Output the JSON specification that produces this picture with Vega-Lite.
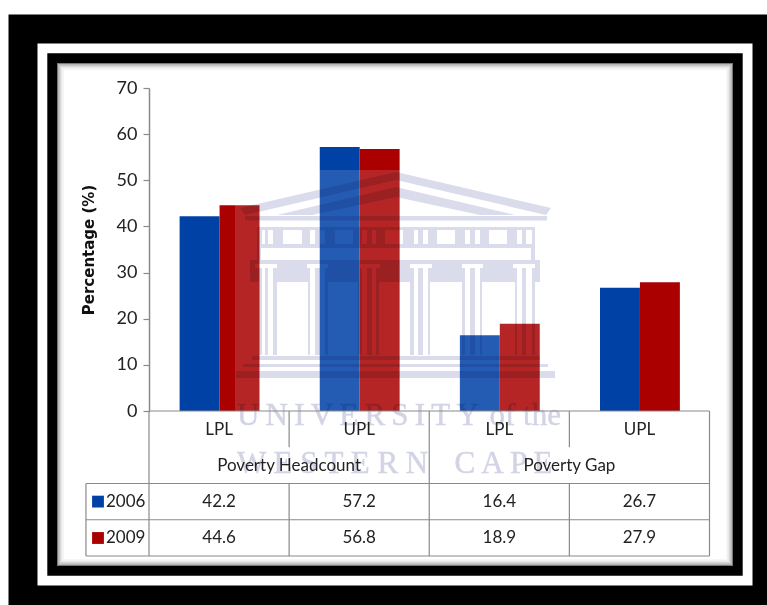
{
  "$schema": "https://vega.github.io/schema/vega-lite/v6.json",
  "autosize": "none",
  "padding": {"left": 57, "top": 63, "right": 34, "bottom": 39},
  "width": 676,
  "height": 503,
  "background": "#ffffff",
  "config": {"view": {"stroke": null}, "font": "Lato"},
  "datasets": {
    "poverty": [
      {"cat": "Poverty Headcount LPL", "line": "LPL", "year": "2006", "value": 42.2},
      {"cat": "Poverty Headcount LPL", "line": "LPL", "year": "2009", "value": 44.6},
      {"cat": "Poverty Headcount UPL", "line": "UPL", "year": "2006", "value": 57.2},
      {"cat": "Poverty Headcount UPL", "line": "UPL", "year": "2009", "value": 56.8},
      {"cat": "Poverty Gap LPL", "line": "LPL", "year": "2006", "value": 16.4},
      {"cat": "Poverty Gap LPL", "line": "LPL", "year": "2009", "value": 18.9},
      {"cat": "Poverty Gap UPL", "line": "UPL", "year": "2006", "value": 26.7},
      {"cat": "Poverty Gap UPL", "line": "UPL", "year": "2009", "value": 27.9}
    ],
    "tableGrid": [
      {"col": 0, "col2": 0, "row": 0, "row2": 4},
      {"col": 1, "col2": 1, "row": 0, "row2": 1},
      {"col": 1, "col2": 1, "row": 2, "row2": 4},
      {"col": 2, "col2": 2, "row": 0, "row2": 4},
      {"col": 3, "col2": 3, "row": 0, "row2": 1},
      {"col": 3, "col2": 3, "row": 2, "row2": 4},
      {"col": 4, "col2": 4, "row": 0, "row2": 4},
      {"col": -0.45, "col2": -0.45, "row": 2, "row2": 4},
      {"col": 0, "col2": 4, "row": 0, "row2": 0},
      {"col": -0.45, "col2": 4, "row": 2, "row2": 2},
      {"col": -0.45, "col2": 4, "row": 3, "row2": 3},
      {"col": -0.45, "col2": 4, "row": 4, "row2": 4}
    ],
    "groups": [
      {"group": "Poverty Headcount", "col": 1, "row": 1.52},
      {"group": "Poverty Gap", "col": 3, "row": 1.52}
    ],
    "watermarkWords": [
      {"word": "U\u2009N\u2009I\u2009V\u2009E\u2009R\u2009S\u2009I\u2009T\u2009Y", "col": 0.628, "row": 0.386, "style": "normal"},
      {"word": "of the", "col": 2.43, "row": 0.386, "style": "italic"},
      {"word": "W E S T E R N", "col": 0.628, "row": 1.71, "style": "normal"},
      {"word": "C\u2009A\u2009P\u2009E", "col": 2.18, "row": 1.71, "style": "normal"}
    ],
    "single": [{"part": "decoration"}]
  },
  "data": {"name": "poverty"},
  "resolve": {
    "scale": {"x": "independent", "y": "independent"},
    "axis": {"x": "independent", "y": "independent"}
  },
  "layer": [
    {"data": {"name": "single"}, "mark": {"type": "rect", "filled": false, "stroke": "#000000", "strokeWidth": 97, "strokeJoin": "miter"}, "encoding": {}},
    {"data": {"name": "single"}, "mark": {"type": "rect", "filled": false, "stroke": "#ffffff", "strokeWidth": 39, "strokeJoin": "miter"}, "encoding": {}},
    {"data": {"name": "single"}, "mark": {"type": "rect", "filled": false, "stroke": "#000000", "strokeWidth": 19.4, "strokeJoin": "miter"}, "encoding": {}},
    {"data": {"name": "single"}, "mark": {"type": "rect", "fill": "#ffffff"}, "encoding": {}},
    {"data": {"name": "single"}, "mark": {"type": "rect", "filled": false, "stroke": "#000000", "strokeOpacity": 0.03, "strokeWidth": 14, "strokeJoin": "miter"}, "encoding": {}},
    {"data": {"name": "single"}, "mark": {"type": "rect", "filled": false, "stroke": "#000000", "strokeOpacity": 0.05, "strokeWidth": 11, "strokeJoin": "miter"}, "encoding": {}},
    {"data": {"name": "single"}, "mark": {"type": "rect", "filled": false, "stroke": "#000000", "strokeOpacity": 0.08, "strokeWidth": 8, "strokeJoin": "miter"}, "encoding": {}},
    {"data": {"name": "single"}, "mark": {"type": "rect", "filled": false, "stroke": "#000000", "strokeOpacity": 0.14, "strokeWidth": 5, "strokeJoin": "miter"}, "encoding": {}},
    {"data": {"name": "single"}, "mark": {"type": "rect", "filled": false, "stroke": "#000000", "strokeOpacity": 0.35, "strokeWidth": 2, "strokeJoin": "miter"}, "encoding": {}},
    {
      "mark": {"type": "bar"},
      "encoding": {
        "x": {
          "field": "cat", "type": "nominal", "axis": null,
          "scale": {
            "type": "band",
            "domain": ["Poverty Headcount LPL", "Poverty Headcount UPL", "Poverty Gap LPL", "Poverty Gap UPL"],
            "range": [92.5, 653], "paddingInner": 0.43, "paddingOuter": 0.215
          }
        },
        "xOffset": {"field": "year", "type": "nominal", "scale": {"domain": ["2006", "2009"]}},
        "y": {
          "field": "value", "type": "quantitative",
          "scale": {"domain": [0, 70], "range": [348, 25], "nice": false},
          "axis": {
            "title": "Percentage (%)", "values": [0, 10, 20, 30, 40, 50, 60, 70], "grid": false, "zindex": 1,
            "offset": -92, "domainColor": "#8a8a8a", "tickColor": "#8a8a8a", "domainWidth": 1.5, "tickWidth": 1.2, "tickSize": 6,
            "labelFont": "Lato", "labelFontSize": 18, "labelColor": "#222222", "labelPadding": 6,
            "titleFont": "DejaVu Sans", "titleFontSize": 15, "titleFontWeight": "bold", "titleColor": "#111111", "titleX": -53
          }
        },
        "color": {"field": "year", "type": "nominal", "legend": null, "scale": {"domain": ["2006", "2009"], "range": ["#0041a6", "#aa0000"]}}
      }
    },
    {
      "data": {"name": "single"},
      "mark": {
        "type": "point", "filled": true, "fill": "#ffffff", "opacity": 0.145, "size": 4,
        "shape": "M-160 -144.5h323v310h-323z"
      },
      "encoding": {}
    },
    {
      "data": {"name": "single"},
      "mark": {
        "type": "point", "filled": true, "fill": "#dadceb", "opacity": 1, "size": 4, "blend": "multiply",
        "shape": "M-155 -106.5L1 -142.5L156 -106.5L151 -99.5L1 -134.5L-150 -99.5ZM1 -127.5L120 -99.5L85 -99.5L1 -117.5L-83 -99.5L-118 -99.5ZM-150 -98.5h302v4.5h-302zM-138 -87.5h278v3h-278zM-138 -70.5h278v4h-278zM-138 -84.5h5v14h-5zM-130 -84.5h3v14h-3zM-122 -84.5h10v14h-10zM-93 -84.5h8v14h-8zM-80 -84.5h5v14h-5zM-70 -84.5h10v14h-10zM-42 -84.5h9v14h-9zM-28 -84.5h5v14h-5zM-19 -84.5h9v14h-9zM8 -84.5h11v14h-11zM23 -84.5h5v14h-5zM33 -84.5h9v14h-9zM60 -84.5h10v14h-10zM75 -84.5h5v14h-5zM85 -84.5h9v14h-9zM112 -84.5h10v14h-10zM127 -84.5h4v14h-4zM137 -84.5h3v14h-3zM-138 -66.5h4v12h-4zM136 -66.5h4v12h-4zM-145 -54.5h290v4h-290zM-145 -50.5h5v4h-5zM-118 -50.5h30v4h-30zM-67 -50.5h32v4h-32zM-15 -50.5h30v4h-30zM37 -50.5h30v4h-30zM88 -50.5h30v4h-30zM140 -50.5h5v4h-5zM-145 -46.5h12v14h-12zM-130 -46.5h3v14h-3zM-122 -46.5h37v14h-37zM-80 -46.5h5v14h-5zM-70 -46.5h37v14h-37zM-28 -46.5h5v14h-5zM-19 -46.5h38v14h-38zM23 -46.5h5v14h-5zM33 -46.5h37v14h-37zM75 -46.5h5v14h-5zM85 -46.5h37v14h-37zM127 -46.5h4v14h-4zM137 -46.5h8v14h-8zM-136 -32.5h3v73h-3zM-130 -32.5h3v73h-3zM-122 -32.5h4v73h-4zM-87 -32.5h2v73h-2zM-80 -32.5h5v73h-5zM-70 -32.5h3v73h-3zM-37 -32.5h4v73h-4zM-28 -32.5h5v73h-5zM-19 -32.5h3v73h-3zM15 -32.5h4v73h-4zM23 -32.5h5v73h-5zM33 -32.5h2v73h-2zM67 -32.5h3v73h-3zM75 -32.5h5v73h-5zM85 -32.5h2v73h-2zM120 -32.5h2v73h-2zM127 -32.5h4v73h-4zM137 -32.5h3v73h-3zM-143 41.5h288v4h-288zM-152 49.5h305v3h-305zM-159 56.5h319v7h-319z"
      },
      "encoding": {}
    },
    {
      "data": {"name": "watermarkWords"},
      "mark": {"type": "text", "font": "Liberation Serif", "fontSize": 31, "align": "left", "baseline": "alphabetic", "color": "#d2d4e5", "stroke": "#d2d4e5", "strokeWidth": 0.5, "blend": "multiply"},
      "encoding": {
        "x": {"field": "col", "type": "quantitative", "axis": null, "scale": {"domain": [0, 4], "range": [92, 652.5], "nice": false, "zero": false}},
        "y": {"field": "row", "type": "quantitative", "axis": null, "scale": {"domain": [0, 4], "range": [348, 493], "nice": false, "zero": false}},
        "text": {"field": "word", "type": "nominal"},
        "fontStyle": {"field": "style", "type": "nominal", "legend": null, "scale": {"domain": ["normal", "italic"], "range": ["normal", "italic"]}}
      }
    },
    {
      "data": {"name": "tableGrid"},
      "mark": {"type": "rule", "color": "#8a8a8a", "strokeWidth": 1.2},
      "encoding": {
        "x": {"field": "col", "type": "quantitative", "axis": null, "scale": {"domain": [0, 4], "range": [92, 652.5], "nice": false, "zero": false}},
        "x2": {"field": "col2"},
        "y": {"field": "row", "type": "quantitative", "axis": null, "scale": {"domain": [0, 4], "range": [348, 493], "nice": false, "zero": false}},
        "y2": {"field": "row2"}
      }
    },
    {
      "transform": [{"filter": "datum.year === '2006'"}],
      "mark": {"type": "text", "fontSize": 17, "color": "#222222", "baseline": "middle"},
      "encoding": {
        "x": {
          "field": "cat", "type": "nominal", "axis": null,
          "scale": {
            "type": "band",
            "domain": ["Poverty Headcount LPL", "Poverty Headcount UPL", "Poverty Gap LPL", "Poverty Gap UPL"],
            "range": [92, 652.5], "paddingInner": 0.43, "paddingOuter": 0.215
          }
        },
        "y": {"datum": 0.52, "type": "quantitative", "axis": null, "scale": {"domain": [0, 4], "range": [348, 493], "nice": false, "zero": false}},
        "text": {"field": "line", "type": "nominal"}
      }
    },
    {
      "data": {"name": "groups"},
      "mark": {"type": "text", "fontSize": 17, "color": "#222222", "baseline": "middle"},
      "encoding": {
        "x": {"field": "col", "type": "quantitative", "axis": null, "scale": {"domain": [0, 4], "range": [92, 652.5], "nice": false, "zero": false}},
        "y": {"field": "row", "type": "quantitative", "axis": null, "scale": {"domain": [0, 4], "range": [348, 493], "nice": false, "zero": false}},
        "text": {"field": "group", "type": "nominal"}
      }
    },
    {
      "mark": {"type": "text", "fontSize": 17, "color": "#222222", "baseline": "middle"},
      "encoding": {
        "x": {
          "field": "cat", "type": "nominal", "axis": null,
          "scale": {
            "type": "band",
            "domain": ["Poverty Headcount LPL", "Poverty Headcount UPL", "Poverty Gap LPL", "Poverty Gap UPL"],
            "range": [92, 652.5], "paddingInner": 0.43, "paddingOuter": 0.215
          }
        },
        "y": {"field": "year", "type": "nominal", "axis": null, "scale": {"type": "point", "domain": ["2006", "2009"], "range": [438.6, 475], "padding": 0}},
        "text": {"field": "value", "type": "quantitative", "format": ".1f"}
      }
    },
    {
      "transform": [{"filter": "datum.cat === 'Poverty Headcount LPL'"}],
      "mark": {"type": "point", "filled": true, "shape": "square", "size": 140, "opacity": 1},
      "encoding": {
        "x": {"datum": -0.364, "type": "quantitative", "axis": null, "scale": {"domain": [0, 4], "range": [92, 652.5], "nice": false, "zero": false}},
        "y": {"field": "year", "type": "nominal", "axis": null, "scale": {"type": "point", "domain": ["2006", "2009"], "range": [438.6, 475], "padding": 0}},
        "color": {"field": "year", "type": "nominal", "legend": null, "scale": {"domain": ["2006", "2009"], "range": ["#0041a6", "#aa0000"]}}
      }
    },
    {
      "transform": [{"filter": "datum.cat === 'Poverty Headcount LPL'"}],
      "mark": {"type": "text", "fontSize": 17, "color": "#222222", "baseline": "middle", "align": "left"},
      "encoding": {
        "x": {"datum": -0.307, "type": "quantitative", "axis": null, "scale": {"domain": [0, 4], "range": [92, 652.5], "nice": false, "zero": false}},
        "y": {"field": "year", "type": "nominal", "axis": null, "scale": {"type": "point", "domain": ["2006", "2009"], "range": [438.6, 475], "padding": 0}},
        "text": {"field": "year", "type": "nominal"}
      }
    }
  ]
}
